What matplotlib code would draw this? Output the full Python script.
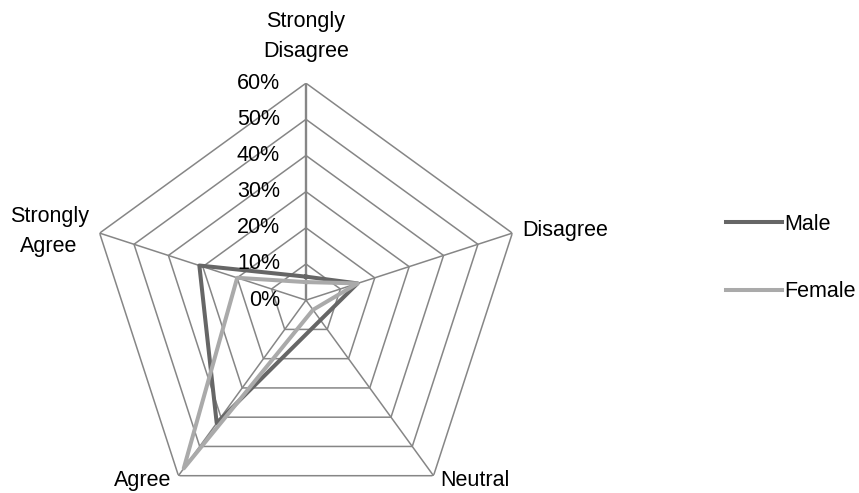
import numpy as np
import matplotlib
matplotlib.use("Agg")
import matplotlib.pyplot as plt
from matplotlib.transforms import offset_copy

plt.rcParams['font.family'] = ['Liberation Sans', 'DejaVu Sans']

# survey answers, share of respondents
categories = ['Strongly\nDisagree', 'Disagree', 'Neutral', 'Agree', 'Strongly\nAgree']
male = [0.065, 0.15, 0.068, 0.42, 0.31]
female = [0.05, 0.15, 0.033, 0.575, 0.20]
ring_values = [0.1, 0.2, 0.3, 0.4, 0.5, 0.6]
ring_labels = ['0%', '10%', '20%', '30%', '40%', '50%', '60%']

fs = 15.5
grid_col = '#868686'

fig = plt.figure(figsize=(8.59, 4.93), dpi=100)
ax = fig.add_axes([0.1036, -0.049, 0.5052, 0.8803], projection='polar')
ax.set_theta_offset(np.pi / 2)
ax.set_theta_direction(-1)
ax.set_ylim(0, 0.6)
ax.grid(False)
ax.set_xticks([])
ax.set_yticks([])
ax.spines['polar'].set_visible(False)
ax.patch.set_visible(False)

n = len(categories)
angles = np.arange(n) * 2 * np.pi / n
closed = np.append(angles, angles[0])

# pentagon rings
for r in ring_values:
    ax.plot(closed, [r] * (n + 1), color=grid_col, lw=1.1, zorder=1)
# spokes
for i, a in enumerate(angles):
    ax.plot([a, a], [0, 0.6], color=grid_col, lw=1.7 if i == 0 else 1.1, zorder=1)

ax.plot(closed, male + male[:1], color='#666666', lw=2.9, label='Male', zorder=3)
ax.plot(closed, female + female[:1], color='#AAAAAA', lw=2.9, label='Female', zorder=3)

# value labels along the top spoke
for i, lab in enumerate(ring_labels):
    r = i * 0.1
    tr = offset_copy(ax.transData, fig=fig, x=-26, y=0, units='dots')
    ax.text(0, r, lab, transform=tr, ha='right', va='center', fontsize=fs, clip_on=False)

# category labels
offsets = [(0, 21, 'center', 'bottom'),
           (10, 3, 'left', 'center'),
           (7, -5, 'left', 'center'),
           (-7, -5, 'right', 'center'),
           (-11, 2, 'right', 'center')]
for a, lab, (dx, dy, ha, va) in zip(angles, categories, offsets):
    tr = offset_copy(ax.transData, fig=fig, x=dx, y=dy, units='dots')
    ax.text(a, 0.6, lab, transform=tr, ha=ha, va=va, fontsize=fs,
            multialignment='center', linespacing=1.55, clip_on=False)

fig.legend(loc='upper left', bbox_to_anchor=(0.845, 0.566), frameon=False,
           fontsize=fs, handlelength=2.6, handletextpad=0.1, labelspacing=2.15,
           borderpad=0, borderaxespad=0)

fig.savefig('out.png', dpi=100)
